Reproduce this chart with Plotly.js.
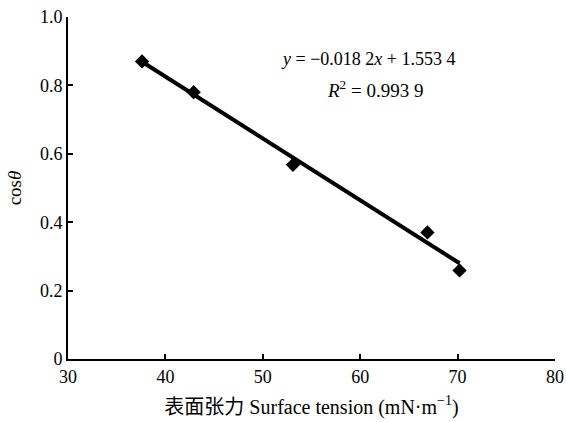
<!DOCTYPE html>
<html>
<head>
<meta charset="utf-8">
<script src="https://cdn.plot.ly/plotly-3.0.1.min.js"></script>
<style>html,body{margin:0;padding:0;background:#fff;}#chart{width:566px;height:422px;}</style>
</head>
<body>
<div id="chart"></div>
<script>
var surfaceTension = [37.6, 42.9, 53.1, 66.9, 70.2];
var cosTheta = [0.87, 0.78, 0.568, 0.37, 0.259];
var fitX = [37.6, 70.2];
var fitY = [0.869, 0.280];
var xTicks = [30, 40, 50, 60, 70, 80];
var yTicks = [0, 0.2, 0.4, 0.6, 0.8, 1.0];
var yTickText = ['0', '0.2', '0.4', '0.6', '0.8', '1.0'];

var serif = 'Liberation Serif, Times New Roman, serif';
var data = [
  {x: fitX, y: fitY, mode: 'lines', line: {color: '#000', width: 4}, showlegend: false, hoverinfo: 'skip'},
  {x: surfaceTension, y: cosTheta, mode: 'markers', marker: {symbol: 'diamond', size: 11, color: '#000'}, showlegend: false}
];
var layout = {
  width: 566, height: 422,
  margin: {l: 68, r: 11, t: 17, b: 63},
  paper_bgcolor: '#fff', plot_bgcolor: '#fff',
  font: {family: serif, size: 18, color: '#000'},
  xaxis: {
    range: [30, 80], tickvals: xTicks, ticks: 'inside', ticklen: 5, tickwidth: 2, tickcolor: '#000',
    showline: true, linewidth: 2, linecolor: '#000', showgrid: false, zeroline: false,
    tickfont: {family: serif, size: 18},
    title: {text: '表面张力 Surface tension (mN·m<sup>−1</sup>)', font: {family: 'Liberation Serif, Noto Sans CJK SC, serif', size: 20}, standoff: 14}
  },
  yaxis: {
    range: [0, 1.0], tickvals: yTicks, ticktext: yTickText, ticks: 'inside', ticklen: 5, tickwidth: 2, tickcolor: '#000',
    showline: true, linewidth: 2, linecolor: '#000', showgrid: false, zeroline: false,
    tickfont: {family: serif, size: 18},
    title: {text: 'cos<i>θ</i>', font: {family: serif, size: 19}, standoff: 13}
  },
  annotations: [
    {xref: 'paper', yref: 'paper', x: 0.615, y: 0.877, xanchor: 'center', yanchor: 'middle', showarrow: false,
     text: '<i>y</i> = −0.018 2<i>x</i> + 1.553 4', font: {family: serif, size: 18}},
    {xref: 'paper', yref: 'paper', x: 0.63, y: 0.79, xanchor: 'center', yanchor: 'middle', showarrow: false,
     text: '<i>R</i><sup>2</sup> = 0.993 9', font: {family: serif, size: 19}}
  ]
};
Plotly.newPlot('chart', data, layout, {displayModeBar: false, staticPlot: true});
</script>
</body>
</html>
